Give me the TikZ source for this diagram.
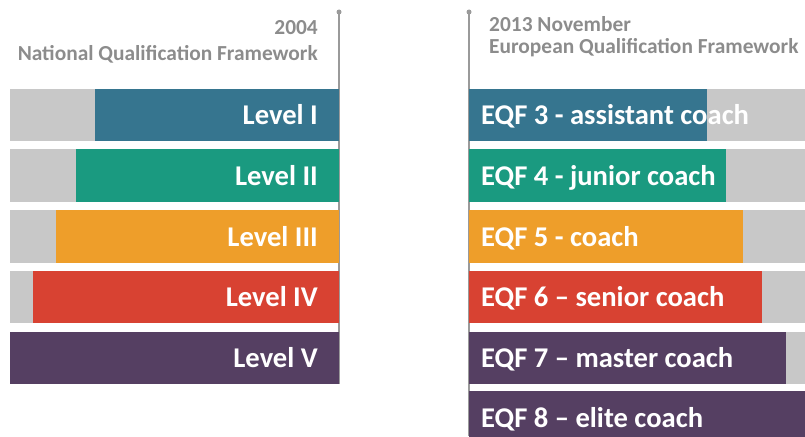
\documentclass[tikz,border=0pt]{standalone}
\usepackage{fontspec}
\setmainfont{Carlito}
\definecolor{cBlue}{HTML}{36758F}
\definecolor{cGreen}{HTML}{1A9A80}
\definecolor{cOrange}{HTML}{EE9E2A}
\definecolor{cRed}{HTML}{D84232}
\definecolor{cPurple}{HTML}{553F62}
\definecolor{cGray}{HTML}{C8C8C8}
\definecolor{cHdr}{HTML}{8C8C8C}
\definecolor{cLine}{HTML}{9A9A9A}
\tikzset{
  barbox/.style={draw=none, inner sep=0pt, outer sep=0pt, anchor=north west, minimum height=52.5pt},
  lbl/.style={text=white, inner sep=0pt, font=\bfseries\fontsize{28.6}{30}\selectfont},
  hdr/.style={text=cHdr, inner sep=0pt, font=\bfseries\fontsize{21.4}{23}\selectfont},
  vline/.style={draw=cLine, line width=1.3pt},
  vdot/.style={circle, fill=cLine, inner sep=0pt, minimum size=5pt}
}
\begin{document}
\begin{tikzpicture}[x=1pt,y=-1pt]
\useasboundingbox (0,0) rectangle (805,436);
% timeline lines
\node[vdot] (dotL) at (339,12) {};
\coordinate (botL) at (339,384);
\draw[vline] (dotL.center) -- (botL);
\node[vdot] (dotR) at (469,12) {};
\coordinate (botR) at (469,436);
\draw[vline] (dotR.center) -- (botR);
% headers
\node[hdr, anchor=base east] (h2004) at (318,35) {2004};
\node[hdr, anchor=base east] (hNQF) at (318,60) {National Qualification Framework};
\node[hdr, anchor=base west] (h2013) at (489,31.5) {2013 November};
\node[hdr, anchor=base west] (hEQF) at (489,53) {European Qualification Framework};
% left bars
\node[barbox, fill=cGray, minimum width=329pt] (gL1) at (10,88.5) {};
\node[barbox, fill=cBlue, minimum width=244.5pt] (bL1) at (94.5,88.5) {};
\node[barbox, fill=cGray, minimum width=329pt] (gL2) at (10,149.3) {};
\node[barbox, fill=cGreen, minimum width=262.7pt] (bL2) at (76.3,149.3) {};
\node[barbox, fill=cGray, minimum width=329pt] (gL3) at (10,210) {};
\node[barbox, fill=cOrange, minimum width=283.3pt] (bL3) at (55.7,210) {};
\node[barbox, fill=cGray, minimum width=329pt] (gL4) at (10,270.8) {};
\node[barbox, fill=cRed, minimum width=305.7pt] (bL4) at (33.3,270.8) {};
\node[barbox, fill=cPurple, minimum width=329pt] (bL5) at (10,331.5) {};
% left labels
\node[lbl, anchor=base east] (tL1) at (318,124.5) {Level I};
\node[lbl, anchor=base east] (tL2) at (318,185.3) {Level II};
\node[lbl, anchor=base east] (tL3) at (318,246) {Level III};
\node[lbl, anchor=base east] (tL4) at (318,306.8) {Level IV};
\node[lbl, anchor=base east] (tL5) at (318,367.5) {Level V};
% right bars
\node[barbox, fill=cGray, minimum width=336pt] (gR3) at (469,88.5) {};
\node[barbox, fill=cBlue, minimum width=237.7pt] (bR3) at (469,88.5) {};
\node[barbox, fill=cGray, minimum width=336pt] (gR4) at (469,149.3) {};
\node[barbox, fill=cGreen, minimum width=257pt] (bR4) at (469,149.3) {};
\node[barbox, fill=cGray, minimum width=336pt] (gR5) at (469,210) {};
\node[barbox, fill=cOrange, minimum width=273.7pt] (bR5) at (469,210) {};
\node[barbox, fill=cGray, minimum width=336pt] (gR6) at (469,270.8) {};
\node[barbox, fill=cRed, minimum width=293.3pt] (bR6) at (469,270.8) {};
\node[barbox, fill=cGray, minimum width=336pt] (gR7) at (469,331.5) {};
\node[barbox, fill=cPurple, minimum width=316.7pt] (bR7) at (469,331.5) {};
\node[barbox, fill=cPurple, minimum width=336pt, minimum height=46pt] (bR8) at (469,390.7) {};
% right labels
\node[lbl, anchor=base west] (tR3) at (481,124.5) {EQF 3 - assistant coach};
\node[lbl, anchor=base west] (tR4) at (481,185.3) {EQF 4 - junior coach};
\node[lbl, anchor=base west] (tR5) at (481,246) {EQF 5 - coach};
\node[lbl, anchor=base west] (tR6) at (481,306.8) {EQF 6 -- senior coach};
\node[lbl, anchor=base west] (tR7) at (481,367.5) {EQF 7 -- master coach};
\node[lbl, anchor=base west] (tR8) at (481,427) {EQF 8 -- elite coach};
\end{tikzpicture}
\end{document}
